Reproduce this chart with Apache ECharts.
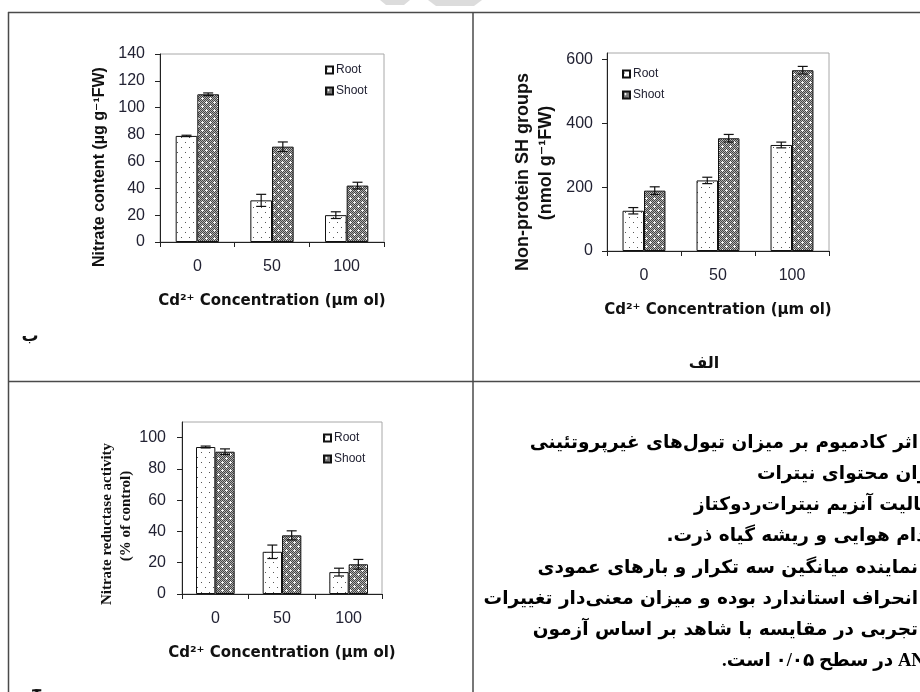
<!DOCTYPE html>
<html>
<head>
<meta charset="utf-8">
<script src="https://cdn.jsdelivr.net/npm/echarts@6/dist/echarts.min.js"></script>
<style>
html,body{margin:0;padding:0;background:#fff;}
#chart{width:920px;height:692px;}
</style>
</head>
<body>
<div id="chart"></div>
<script>
// ---------- data ----------
const categories = ['0', '50', '100'];
const seriesNames = ['Root', 'Shoot'];

// ب : Nitrate content
const nitrateRoot = [79, 31, 20];
const nitrateRootErr = [0.5, 4.5, 2.5];
const nitrateShoot = [110, 71, 42];
const nitrateShootErr = [1, 3.5, 2.5];
const nitrateTicks = [0, 20, 40, 60, 80, 100, 120, 140];

// الف : Non-protein SH groups
const shRoot = [126, 221, 332];
const shRootErr = [10, 10, 9];
const shShoot = [189, 353, 566];
const shShootErr = [12, 12, 12];
const shTicks = [0, 200, 400, 600];

// ج : Nitrate reductase activity
const nrRoot = [94, 27, 14];
const nrRootErr = [0.6, 4.3, 2.5];
const nrShoot = [91, 37.5, 19];
const nrShootErr = [1.8, 2.9, 3.1];
const nrTicks = [0, 20, 40, 60, 80, 100];

const xAxisTitle = 'Cd²⁺ Concentration (µm ol)';
const faLines = [
  {text: 'اثر کادمیوم بر میزان تیول‌های غیرپروتئینی', hidden: ''},
  {text: 'میزان محتوای نیترات', hidden: 'می'},
  {text: 'فعالیت آنزیم نیترات‌ردوکتاز', hidden: 'فع'},
  {text: 'اندام هوایی و ریشه گیاه ذرت.', hidden: 'ان'},
  {text: 'نماینده میانگین سه تکرار و بارهای عمودی', hidden: ''},
  {text: 'انحراف استاندارد بوده و میزان معنی‌دار تغییرات', hidden: ''},
  {text: 'تجربی در مقایسه با شاهد بر اساس آزمون', hidden: ''},
  {text: 'ANOVA در سطح ۰/۰۵ است.', hidden: 'OVA', latin: true}
];

// ---------- styles ----------
const BAR_FRAC = 0.29;
function makeRootPattern() {
  const c = document.createElement('canvas'); c.width = 8; c.height = 10;
  const g = c.getContext('2d');
  g.fillStyle = '#ffffff'; g.fillRect(0, 0, 8, 10);
  g.fillStyle = '#555555'; g.fillRect(1, 2, 1, 1); g.fillRect(5, 7, 1, 1);
  return c;
}
function makeShootPattern() {
  const c = document.createElement('canvas'); c.width = 8; c.height = 8;
  const g = c.getContext('2d');
  for (let x = 0; x < 8; x++) for (let y = 0; y < 8; y++) {
    g.fillStyle = ((x + y) % 2 === 0) ? '#444444' : '#b0b0b0';
    g.fillRect(x, y, 1, 1);
  }
  g.fillStyle = '#f4f4f4';
  [[2, 2], [6, 6]].forEach(([px, py]) => {
    g.fillRect(px, py, 1, 1); g.fillRect(px - 1, py, 1, 1); g.fillRect(px + 1, py, 1, 1);
    g.fillRect(px, py - 1, 1, 1); g.fillRect(px, py + 1, 1, 1);
  });
  return c;
}
const rootFill = {image: makeRootPattern(), repeat: 'repeat'};
const shootFill = {image: makeShootPattern(), repeat: 'repeat'};

function errRender(side) {
  return function (params, api) {
    const i = api.value(0), v = api.value(1), e = api.value(2);
    const top = api.coord([i, v + e]);
    const bot = api.coord([i, v - e]);
    const band = api.size([1, 0])[0];
    const x = top[0] + side * band * BAR_FRAC / 2;
    const hw = 5;
    const st = {stroke: '#111', lineWidth: 1.2};
    return {type: 'group', children: [
      {type: 'line', shape: {x1: x, y1: top[1], x2: x, y2: bot[1]}, style: st},
      {type: 'line', shape: {x1: x - hw, y1: top[1], x2: x + hw, y2: top[1]}, style: st},
      {type: 'line', shape: {x1: x - hw, y1: bot[1], x2: x + hw, y2: bot[1]}, style: st}
    ]};
  };
}

const tickColor = '#222233';
function xAxisCfg(gi) {
  return {
    type: 'category', gridIndex: gi, data: categories,
    axisLine: {lineStyle: {color: '#222', width: 1}},
    axisTick: {show: true, length: 5, lineStyle: {color: '#222'}},
    axisLabel: {fontSize: 16, color: tickColor, margin: 17, fontFamily: 'Liberation Sans'},
    splitLine: {show: false},
    name: xAxisTitle, nameLocation: 'middle', nameGap: 52,
    nameTextStyle: {fontSize: 15, fontWeight: 'bold', fontFamily: 'DejaVu Sans', color: '#111'}
  };
}
function yAxisCfg(gi, max, ticks, margin) {
  return {
    type: 'value', gridIndex: gi, min: 0, max: max,
    axisLine: {show: true, lineStyle: {color: '#222', width: 1}},
    axisTick: {show: true, length: 5, customValues: ticks, lineStyle: {color: '#222'}},
    axisLabel: {customValues: ticks, fontSize: 16, color: tickColor, margin: margin, fontFamily: 'Liberation Sans'},
    splitLine: {show: false}
  };
}
function barSeries(name, gi, data, fill) {
  return {
    type: 'bar', name: name, xAxisIndex: gi, yAxisIndex: gi, data: data,
    barWidth: (BAR_FRAC * 100) + '%', barGap: '0%',
    itemStyle: {color: fill, borderColor: '#111', borderWidth: 1},
    emphasis: {disabled: true}, silent: true
  };
}
function errSeries(name, gi, vals, errs, side) {
  return {
    type: 'custom', name: name, xAxisIndex: gi, yAxisIndex: gi, z: 10,
    data: vals.map((v, i) => [i, v, errs[i]]),
    renderItem: errRender(side), silent: true
  };
}
function legendCfg(left, top) {
  return {
    data: seriesNames, orient: 'vertical', left: left, top: top, padding: 0,
    itemWidth: 7, itemHeight: 7, itemGap: 9, icon: 'rect', selectedMode: false,
    textStyle: {fontSize: 12, color: '#223', fontFamily: 'Liberation Sans', padding: [0, 0, 0, -2]}
  };
}

// measuring helper for the clipped Persian lines
const mctx = document.createElement('canvas').getContext('2d');
function measure(t, font) { mctx.font = font; return mctx.measureText(t).width; }
const FA_SIZE = 18.5;
const faFont = 'bold ' + FA_SIZE + 'px "DejaVu Sans"';
const latFont = 'bold ' + FA_SIZE + 'px "Liberation Serif"';
const faY0 = 443, faStep = 31.2;

const graphics = [];
const lineStyle = {stroke: '#4a4a4a', lineWidth: 1.5};
[[8, 12.5, 920, 12.5], [8.5, 12, 8.5, 692], [473, 12, 473, 692], [8, 381.5, 920, 381.5]].forEach(l => {
  graphics.push({type: 'line', shape: {x1: l[0], y1: l[1], x2: l[2], y2: l[3]}, style: lineStyle, silent: true});
});
graphics.push({type: 'polygon', shape: {points: [[380, 0], [410, 0], [404, 5], [386, 5]]}, style: {fill: '#dcdcdc'}, silent: true});
graphics.push({type: 'polygon', shape: {points: [[428, 0], [482, 0], [474, 6], [436, 6]]}, style: {fill: '#dcdcdc'}, silent: true});

function vtext(x, y, t, size, family) {
  graphics.push({type: 'text', x: x, y: y, rotation: Math.PI / 2, silent: true,
    style: {text: t, fontSize: size, fontWeight: 'bold', fontFamily: family, fill: '#111', align: 'center', verticalAlign: 'middle'}});
}
vtext(100, 167, 'Nitrate content (µg g⁻¹FW)', 16, '"Liberation Sans", "DejaVu Sans"');
vtext(523, 172, 'Non-protein SH groups', 18, '"Liberation Sans", "DejaVu Sans"');
vtext(546, 163, '(nmol g⁻¹FW)', 18, '"Liberation Sans", "DejaVu Sans"');
vtext(107, 524, 'Nitrate reductase activity', 15, '"Liberation Serif"');
vtext(126, 516, '(% of control)', 15, '"Liberation Serif"');

function htext(x, y, t, size, align) {
  graphics.push({type: 'text', x: x, y: y, silent: true,
    style: {text: t, fontSize: size, fontWeight: 'bold', fontFamily: '"DejaVu Sans"', fill: '#111', align: align || 'center', verticalAlign: 'middle'}});
}
htext(30, 337, 'ب', 17);
htext(704, 364, 'الف', 16);
graphics.push({type: 'text', x: 37, y: 683, silent: true,
  style: {text: 'ج', fontSize: 17, fontWeight: 'bold', fontFamily: '"DejaVu Sans"', fill: '#111', align: 'center', verticalAlign: 'top'}});

faLines.forEach((ln, k) => {
  let shift = 0;
  if (ln.hidden) shift = measure(ln.hidden, ln.latin ? latFont : faFont) + (ln.latin ? measure('N', latFont) * 0.5 : 0);
  graphics.push({type: 'text', x: 918 + shift, y: faY0 + k * faStep, silent: true,
    style: {text: '\u202B' + ln.text + '\u202C', fontSize: FA_SIZE, fontWeight: 'bold',
      fontFamily: ln.latin ? '"Liberation Serif", "DejaVu Sans"' : '"DejaVu Sans"',
      fill: '#000', align: 'right', verticalAlign: 'middle'}});
});

const option = {
  animation: false,
  backgroundColor: '#ffffff',
  grid: [
    {left: 160, top: 54, width: 224, height: 188, show: true, borderColor: '#a8a8a8', borderWidth: 1, backgroundColor: 'transparent'},
    {left: 607, top: 53, width: 222, height: 198, show: true, borderColor: '#a8a8a8', borderWidth: 1, backgroundColor: 'transparent'},
    {left: 182, top: 422, width: 200, height: 172, show: true, borderColor: '#a8a8a8', borderWidth: 1, backgroundColor: 'transparent'}
  ],
  xAxis: [xAxisCfg(0), xAxisCfg(1), xAxisCfg(2)],
  yAxis: [yAxisCfg(0, 140, nitrateTicks, 15), yAxisCfg(1, 620, shTicks, 14), yAxisCfg(2, 110, nrTicks, 16)],
  legend: [legendCfg(325, 64), legendCfg(622, 68), legendCfg(323, 432)],
  series: [
    barSeries('Root', 0, nitrateRoot, rootFill),
    barSeries('Shoot', 0, nitrateShoot, shootFill),
    errSeries('Root SD', 0, nitrateRoot, nitrateRootErr, -1),
    errSeries('Shoot SD', 0, nitrateShoot, nitrateShootErr, 1),
    barSeries('Root', 1, shRoot, rootFill),
    barSeries('Shoot', 1, shShoot, shootFill),
    errSeries('Root SD', 1, shRoot, shRootErr, -1),
    errSeries('Shoot SD', 1, shShoot, shShootErr, 1),
    barSeries('Root', 2, nrRoot, rootFill),
    barSeries('Shoot', 2, nrShoot, shootFill),
    errSeries('Root SD', 2, nrRoot, nrRootErr, -1),
    errSeries('Shoot SD', 2, nrShoot, nrShootErr, 1)
  ],
  graphic: graphics
};
const chart = echarts.init(document.getElementById('chart'), null, {renderer: 'canvas'});
chart.setOption(option);
</script>
</body>
</html>
